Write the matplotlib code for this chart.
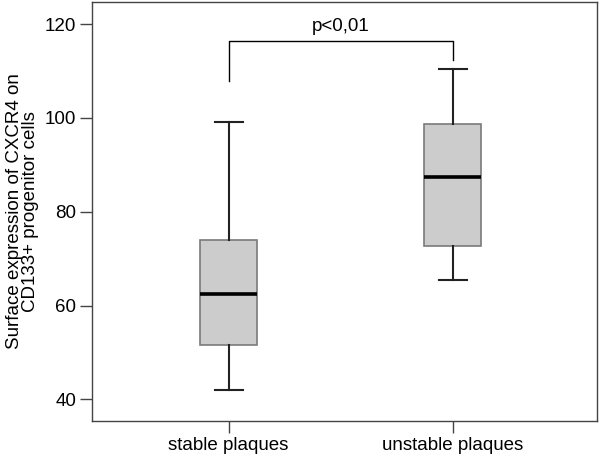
import matplotlib
matplotlib.use("Agg")
import matplotlib.pyplot as plt

plt.rcParams['font.family'] = ['Liberation Sans', 'DejaVu Sans']

categories = ["stable plaques", "unstable plaques"]
whislo = [42.1, 65.4]
q1 = [51.5, 72.8]
med = [62.45, 87.5]
q3 = [74.0, 98.7]
whishi = [99.2, 110.4]
yticks = [40, 60, 80, 100, 120]
p_label = "p<0,01"
bracket_y = 116.4
bracket_legs = [107.8, 112.3]

fig = plt.figure(figsize=(6, 4.62), dpi=100)
ax = fig.add_axes([92/600, (462-421)/462, (597-92)/600, (421-2)/462])

stats = []
for i, c in enumerate(categories):
    stats.append(dict(label=c, whislo=whislo[i], q1=q1[i], med=med[i],
                      q3=q3[i], whishi=whishi[i], fliers=[]))

positions = [1, 2]
ax.bxp(stats, positions=positions, widths=0.253, patch_artist=True,
       boxprops=dict(facecolor='#cccccc', edgecolor='#7a7a7a', linewidth=1.2),
       medianprops=dict(color='black', linewidth=2.6),
       whiskerprops=dict(color='#222222', linewidth=1.5),
       capprops=dict(color='#222222', linewidth=1.5),
       capwidths=0.124, showfliers=False)

ax.set_xlim(0.39, 2.644)
ax.set_ylim(35.4, 124.7)
ax.set_yticks(yticks)
ax.set_xticks(positions)
ax.set_xticklabels(categories)
ax.tick_params(axis='both', direction='out', length=8.5, width=1, color='#444444',
               labelsize=13.5, pad=3)
for s in ax.spines.values():
    s.set_color('#444444')
    s.set_linewidth(1)
ax.set_ylabel("Surface expression of CXCR4 on\nCD133+ progenitor cells", fontsize=13.5,
              linespacing=0.9, labelpad=4)

ax.plot([positions[0], positions[0], positions[1], positions[1]],
        [bracket_legs[0], bracket_y, bracket_y, bracket_legs[1]],
        color='black', linewidth=1)
ax.text((positions[0] + positions[1]) / 2, bracket_y + 1.2, p_label,
        ha='center', va='bottom', fontsize=13.5)

fig.savefig("out.png", dpi=100)
